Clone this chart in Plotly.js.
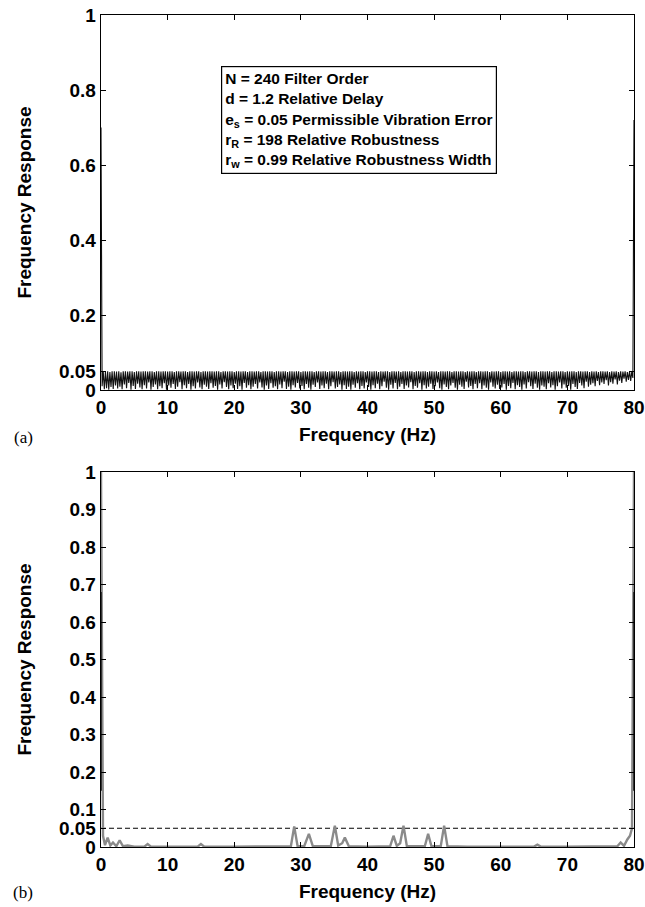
<!DOCTYPE html>
<html>
<head>
<meta charset="utf-8">
<script src="https://cdn.plot.ly/plotly-3.0.1.min.js"></script>
<style>html,body{margin:0;padding:0;background:#fff}#chart{width:645px;height:907px}</style>
</head>
<body>
<div id="chart"></div>
<script>
// ---- Data ----
// (a) designed filter response, sampled every 1/6 Hz from 0 to 80 Hz
const respA = [0.70,
0.010,0.050,0.002,0.049,0.005,0.050,0.001,0.048,0.008,0.050,0.003,0.050,0.012,0.049,0.004,0.050,0.009,0.047,0.002,0.050,
0.015,0.050,0.005,0.049,0.019,0.050,0.001,0.050,0.011,0.048,0.003,0.050,0.017,0.050,0.007,0.049,0.002,0.050,0.013,0.050,
0.004,0.049,0.020,0.050,0.001,0.050,0.008,0.048,0.015,0.050,0.002,0.050,0.010,0.049,0.005,0.050,0.018,0.050,0.001,0.049,
0.012,0.050,0.006,0.050,0.016,0.048,0.003,0.050,0.009,0.050,0.021,0.049,0.002,0.050,0.013,0.050,0.005,0.048,0.016,0.050,
0.001,0.050,0.010,0.049,0.004,0.050,0.020,0.050,0.007,0.048,0.002,0.050,0.014,0.050,0.009,0.049,0.003,0.050,0.018,0.050,
0.006,0.049,0.011,0.050,0.001,0.050,0.015,0.048,0.004,0.050,0.021,0.050,0.008,0.049,0.002,0.050,0.012,0.050,0.005,0.048,
0.017,0.050,0.003,0.050,0.010,0.049,0.001,0.050,0.019,0.050,0.006,0.048,0.013,0.050,0.002,0.050,0.009,0.049,0.016,0.050,
0.004,0.050,0.020,0.048,0.007,0.050,0.001,0.050,0.012,0.049,0.003,0.050,0.018,0.050,0.006,0.048,0.010,0.050,0.002,0.050,
0.015,0.049,0.005,0.050,0.022,0.050,0.003,0.048,0.009,0.050,0.001,0.050,0.013,0.049,0.007,0.050,0.019,0.050,0.004,0.048,
0.011,0.050,0.002,0.050,0.016,0.049,0.006,0.050,0.001,0.050,0.014,0.048,0.008,0.050,0.020,0.050,0.003,0.049,0.012,0.050,
0.005,0.050,0.017,0.048,0.002,0.050,0.010,0.050,0.021,0.049,0.004,0.050,0.008,0.050,0.015,0.048,0.001,0.050,0.013,0.050,
0.003,0.049,0.009,0.050,0.001,0.050,0.014,0.048,0.006,0.050,0.018,0.049,0.002,0.050,0.011,0.050,0.004,0.048,0.020,0.050,
0.008,0.050,0.001,0.049,0.013,0.050,0.005,0.050,0.017,0.048,0.002,0.050,0.010,0.049,0.022,0.050,0.006,0.050,0.001,0.048,
0.014,0.050,0.004,0.050,0.019,0.049,0.002,0.050,0.009,0.048,0.016,0.050,0.003,0.050,0.012,0.049,0.007,0.050,0.021,0.050,
0.002,0.048,0.011,0.050,0.006,0.050,0.018,0.049,0.001,0.050,0.013,0.050,0.004,0.048,0.009,0.050,0.017,0.050,0.003,0.049,
0.010,0.050,0.020,0.048,0.005,0.050,0.001,0.050,0.015,0.049,0.008,0.050,0.002,0.050,0.012,0.048,0.019,0.050,0.006,0.050,
0.001,0.049,0.014,0.050,0.009,0.050,0.003,0.048,0.022,0.050,0.007,0.049,0.011,0.050,0.002,0.050,0.016,0.048,0.005,0.050,
0.018,0.050,0.002,0.049,0.012,0.050,0.006,0.050,0.001,0.048,0.020,0.050,0.009,0.049,0.004,0.050,0.014,0.050,0.003,0.048,
0.007,0.050,0.016,0.050,0.001,0.049,0.011,0.050,0.005,0.048,0.019,0.050,0.002,0.050,0.013,0.049,0.008,0.050,0.001,0.050,
0.015,0.048,0.004,0.050,0.021,0.050,0.010,0.049,0.003,0.050,0.017,0.050,0.006,0.048,0.001,0.050,0.012,0.050,0.009,0.049,
0.002,0.050,0.018,0.050,0.007,0.048,0.013,0.050,0.001,0.050,0.010,0.049,0.020,0.050,0.004,0.050,0.015,0.048,0.006,0.050,
0.011,0.049,0.001,0.050,0.016,0.050,0.008,0.048,0.003,0.050,0.019,0.050,0.012,0.049,0.005,0.050,0.022,0.050,0.009,0.048,
0.014,0.050,0.018,0.049,0.010,0.050,0.024,0.048,0.013,0.050,0.020,0.050,0.016,0.049,0.026,0.050,0.012,0.048,0.021,0.050,
0.017,0.049,0.028,0.050,0.015,0.048,0.025,0.050,0.019,0.049,0.030,0.050,0.022,0.048,0.027,0.050,0.024,0.049,0.032,
0.72];
const freqStartA = 0;
const freqStepA = 1/6;

// (b) measured response (grey)
const freqB = [0,0.3,0.6,1.0,1.4,1.8,2.3,2.8,3.3,4,5,6.5,7,7.5,10,14.5,15,15.5,20,25,28.5,29,29.5,30.5,31.2,31.8,34.5,35.1,35.6,36.2,36.6,37.2,40,43.4,43.9,44.4,44.9,45.4,45.9,48.6,49.1,49.6,51,51.5,52,55,60,65,65.5,66,70,75,77.5,78,78.5,79,79.4,79.7,80];
const respB = [1.0,0.03,0.005,0.025,0.004,0.012,0.002,0.018,0.002,0.004,0.001,0.001,0.008,0.001,0.001,0.001,0.008,0.001,0.001,0.001,0.002,0.055,0.003,0.002,0.035,0.002,0.003,0.057,0.004,0.01,0.025,0.002,0.001,0.002,0.03,0.003,0.01,0.057,0.003,0.002,0.035,0.002,0.003,0.057,0.002,0.001,0.001,0.001,0.006,0.001,0.001,0.001,0.002,0.012,0.003,0.02,0.03,0.05,1.0];
// (b) dark edge segments of the designed response
const edgeFreqB = [0,0,null,80,80];
const edgeRespB = [0.68,0.15,null,0.68,0.15];
// permissible vibration error level
const errLevel = 0.05;
const errFreq = [0,80];

// ticks
const xTicks = [0,10,20,30,40,50,60,70,80];
const yTicksA = [0,0.05,0.2,0.4,0.6,0.8,1];
const yTickTextA = ['0','0.05','0.2','0.4','0.6','0.8','1'];
const yTicksB = [0,0.05,0.1,0.2,0.3,0.4,0.5,0.6,0.7,0.8,0.9,1];
const yTickTextB = ['0','0.05','0.1','0.2','0.3','0.4','0.5','0.6','0.7','0.8','0.9','1'];

const infoLines = ['N = 240 Filter Order','d = 1.2 Relative Delay','e<sub>s</sub> = 0.05 Permissible Vibration Error','r<sub>R</sub> = 198 Relative Robustness','r<sub>w</sub> = 0.99 Relative Robustness Width'];

// ---- Layout geometry (px) ----
const W = 645, H = 907;
const L = 101, R = 634;
const topA = 15, botA = 390, topB = 472, botB = 847;
const mT = topA, mB = H - botB;
const ph = H - mT - mB;
const domA = [(botB - botA) / ph, 1];
const domB = [0, (botB - topB) / ph];

const sans = 'Liberation Sans, Arial, sans-serif';
const tickFont = {family: sans, size: 19, color: '#000', weight: 700};
const titleFont = {family: sans, size: 19, color: '#000', weight: 700};

function xAxis(anchor) {
  return {anchor: anchor, range: [0, 80], tickvals: xTicks, ticks: 'inside', ticklen: 5,
    tickcolor: '#000', showline: true, linecolor: '#000', linewidth: 1.3, mirror: 'ticks',
    showgrid: false, zeroline: false, tickfont: tickFont,
    title: {text: 'Frequency (Hz)', font: titleFont, standoff: 10}};
}
function yAxis(anchor, dom, vals, txt) {
  return {anchor: anchor, domain: dom, range: [0, 1], tickvals: vals, ticktext: txt,
    ticks: 'inside', ticklen: 5, tickcolor: '#000', showline: true, linecolor: '#000',
    linewidth: 1.3, mirror: 'ticks', showgrid: false, zeroline: false, tickfont: tickFont,
    title: {text: 'Frequency Response', font: titleFont, standoff: 22}};
}

const traces = [
  {x0: freqStartA, dx: freqStepA, y: respA, type: 'scatter', mode: 'lines',
   line: {color: '#111', width: 1.1}, xaxis: 'x', yaxis: 'y', hoverinfo: 'skip'},
  {x: errFreq, y: [errLevel, errLevel], type: 'scatter', mode: 'lines',
   line: {color: '#000', width: 1, dash: '5px,3px'}, xaxis: 'x2', yaxis: 'y2'},
  {x: freqB, y: respB, type: 'scatter', mode: 'lines',
   line: {color: '#8a8a8a', width: 2.4}, xaxis: 'x2', yaxis: 'y2'},
  {x: edgeFreqB, y: edgeRespB, type: 'scatter', mode: 'lines', connectgaps: false,
   line: {color: '#333', width: 2}, xaxis: 'x2', yaxis: 'y2'}
];

const layout = {
  width: W, height: H, showlegend: false,
  paper_bgcolor: '#fff', plot_bgcolor: '#fff',
  margin: {l: L, r: W - R, t: mT, b: mB},
  xaxis: xAxis('y'),
  yaxis: yAxis('x', domA, yTicksA, yTickTextA),
  xaxis2: xAxis('y2'),
  yaxis2: yAxis('x2', domB, yTicksB, yTickTextB),
  annotations: [
    {xref: 'x', yref: 'y', x: 18.0, y: 0.864, xanchor: 'left', yanchor: 'top',
     text: infoLines.join('<br>'), align: 'left', showarrow: false,
     font: {family: sans, size: 15.5, color: '#000', weight: 700},
     bordercolor: '#000', borderwidth: 1.2, borderpad: 3, bgcolor: '#fff'},
    {xref: 'paper', yref: 'paper', x: (23 - L) / (R - L), y: (botB - 437) / ph,
     xanchor: 'center', yanchor: 'middle', text: '(a)', showarrow: false,
     font: {family: 'Liberation Serif, Times New Roman, serif', size: 17, color: '#000'}},
    {xref: 'paper', yref: 'paper', x: (23 - L) / (R - L), y: (botB - 892) / ph,
     xanchor: 'center', yanchor: 'middle', text: '(b)', showarrow: false,
     font: {family: 'Liberation Serif, Times New Roman, serif', size: 17, color: '#000'}}
  ]
};

Plotly.newPlot('chart', traces, layout, {displayModeBar: false, staticPlot: true});
</script>
</body>
</html>
